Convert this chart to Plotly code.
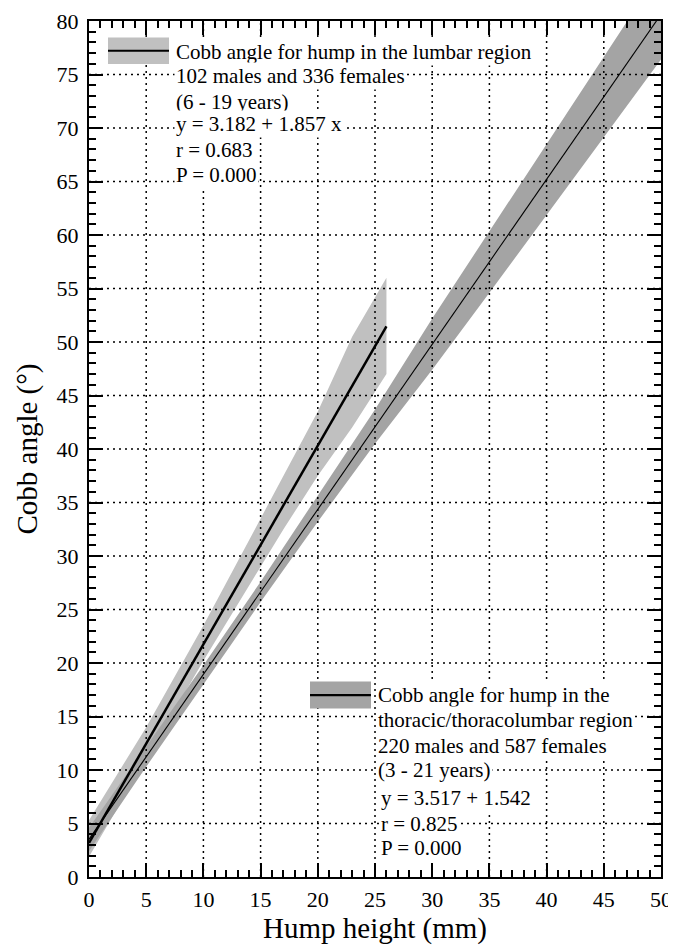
import plotly.graph_objects as go

# ---------------- data ----------------
lumbar_x = [0, 5, 10, 15, 17, 20, 23, 26]
lumbar_upper = [5.3, 14.0, 23.5, 33.5, 37.5, 43.5, 50.5, 56.0]
lumbar_lower = [1.9, 11.0, 20.2, 29.0, 32.5, 37.5, 42.0, 47.0]
lumbar_line_x = [0, 26]
lumbar_line_y = [3.18, 51.46]

thor_x = [0, 5, 10, 15, 20, 25, 30, 35, 40, 45, 50]
thor_upper = [4.6, 12.2, 19.8, 27.6, 35.6, 43.7, 52.2, 60.4, 68.6, 76.7, 84.8]
thor_lower = [2.4, 10.3, 18.0, 25.7, 33.2, 40.5, 47.4, 54.6, 61.8, 69.1, 76.4]
thor_line_x = [0, 50]
thor_line_y = [3.52, 80.62]

x_grid = [5, 10, 15, 20, 25, 30, 35, 40, 45]
y_grid = [5, 10, 15, 20, 25, 30, 35, 40, 45, 50, 55, 60, 65, 70, 75]

legend1_lines = ["Cobb angle for hump in the lumbar region",
                 "102 males and 336 females",
                 "(6 - 19 years)",
                 "y = 3.182 + 1.857 x",
                 "r = 0.683",
                 "P = 0.000"]
legend2_lines = ["Cobb angle for hump in the",
                 "thoracic/thoracolumbar region",
                 "220 males and 587 females",
                 "(3 - 21 years)",
                 "y = 3.517 + 1.542",
                 "r = 0.825",
                 "P = 0.000"]

FONT = "Liberation Serif"
OFF = 8  # page body margin
W, H = 676, 949
L, R, T, B = 89, 15, 21, 71.5           # in page pixels
pw, ph = W - L - R, H - T - B


def px2paper(px, py):
    return (px - L) / pw, (H - B - py) / ph


fig = go.Figure()
fig.add_trace(go.Scatter(
    x=lumbar_x + lumbar_x[::-1], y=lumbar_upper + lumbar_lower[::-1],
    fill="toself", fillcolor="#c0c0c0", line=dict(width=0),
    mode="lines", hoverinfo="skip", showlegend=False))
fig.add_trace(go.Scatter(
    x=thor_x + thor_x[::-1], y=thor_upper + thor_lower[::-1],
    fill="toself", fillcolor="#a4a4a4", line=dict(width=0),
    mode="lines", hoverinfo="skip", showlegend=False))
fig.add_trace(go.Scatter(x=lumbar_line_x, y=lumbar_line_y, mode="lines",
                         line=dict(color="black", width=2.5), showlegend=False))
fig.add_trace(go.Scatter(x=thor_line_x, y=thor_line_y, mode="lines",
                         line=dict(color="black", width=1.1), showlegend=False))

shapes = []
for v in x_grid:
    shapes.append(dict(type="line", xref="x", yref="paper", x0=v, x1=v, y0=0, y1=1,
                       line=dict(color="black", width=1.5, dash="2px,4px"), layer="above"))
for v in y_grid:
    shapes.append(dict(type="line", xref="paper", yref="y", x0=0, x1=1, y0=v, y1=v,
                       line=dict(color="black", width=1.5, dash="2px,4px"), layer="above"))


def swatch(x0, y0, x1, y1, color):
    a0, b0 = px2paper(x0, y1)
    a1, b1 = px2paper(x1, y0)
    shapes.append(dict(type="rect", xref="paper", yref="paper", x0=a0, x1=a1, y0=b0, y1=b1,
                       fillcolor=color, line=dict(width=0), layer="above"))
    ym = (b0 + b1) / 2
    shapes.append(dict(type="line", xref="paper", yref="paper", x0=a0, x1=a1, y0=ym, y1=ym,
                       line=dict(color="black", width=2.2), layer="above"))


swatch(108, 37.5, 169, 64, "#c0c0c0")
swatch(310, 682, 371, 709, "#a4a4a4")

annotations = []
base1 = [58.3, 82.7, 108.3, 131, 156.7, 181.7]
for txt, bl in zip(legend1_lines, base1):
    ax, ay = px2paper(174, bl - 6.5)
    annotations.append(dict(text=txt, x=ax, y=ay, xref="paper", yref="paper",
                            xanchor="left", yanchor="middle", showarrow=False,
                            bgcolor="white", borderpad=1,
                            font=dict(family=FONT, size=21, color="black")))
base2 = [702.3, 726.7, 752.7, 776.7, 805, 830.7, 855]
xs2 = [376, 376, 376, 376, 378.5, 378.5, 378.5]
for txt, bl, xx in zip(legend2_lines, base2, xs2):
    ax, ay = px2paper(xx, bl - 6.5)
    annotations.append(dict(text=txt, x=ax, y=ay, xref="paper", yref="paper",
                            xanchor="left", yanchor="middle", showarrow=False,
                            bgcolor="white", borderpad=1,
                            font=dict(family=FONT, size=21, color="black")))

axis_common = dict(showline=True, linecolor="black", linewidth=2, mirror="allticks",
                   ticks="inside", ticklen=14, tickwidth=1.5, tickcolor="black",
                   showgrid=False, zeroline=False, automargin=False,
                   tickfont=dict(family=FONT, size=22, color="black"))

fig.update_layout(
    width=W - OFF, height=H - OFF,
    margin=dict(l=L - OFF, r=R, t=T - OFF, b=B, autoexpand=False),
    paper_bgcolor="white", plot_bgcolor="white",
    showlegend=False,
    shapes=shapes, annotations=annotations,
    xaxis=dict(range=[0, 50], tickmode="linear", tick0=0, dtick=5,
               minor=dict(ticks="inside", ticklen=7, tickwidth=1.5, dtick=1, tickcolor="black"),
               ticklabelstandoff=2,
               title=dict(text="Hump height (mm)", font=dict(family=FONT, size=29, color="black"),
                          standoff=6),
               **axis_common),
    yaxis=dict(range=[0, 80], tickmode="linear", tick0=0, dtick=5,
               minor=dict(ticks="inside", ticklen=7, tickwidth=1.5, dtick=1, tickcolor="black"),
               ticklabelstandoff=4,
               title=dict(text="Cobb angle (°)", font=dict(family=FONT, size=29, color="black"),
                          standoff=10),
               **axis_common),
)

fig.write_html("out.html")
